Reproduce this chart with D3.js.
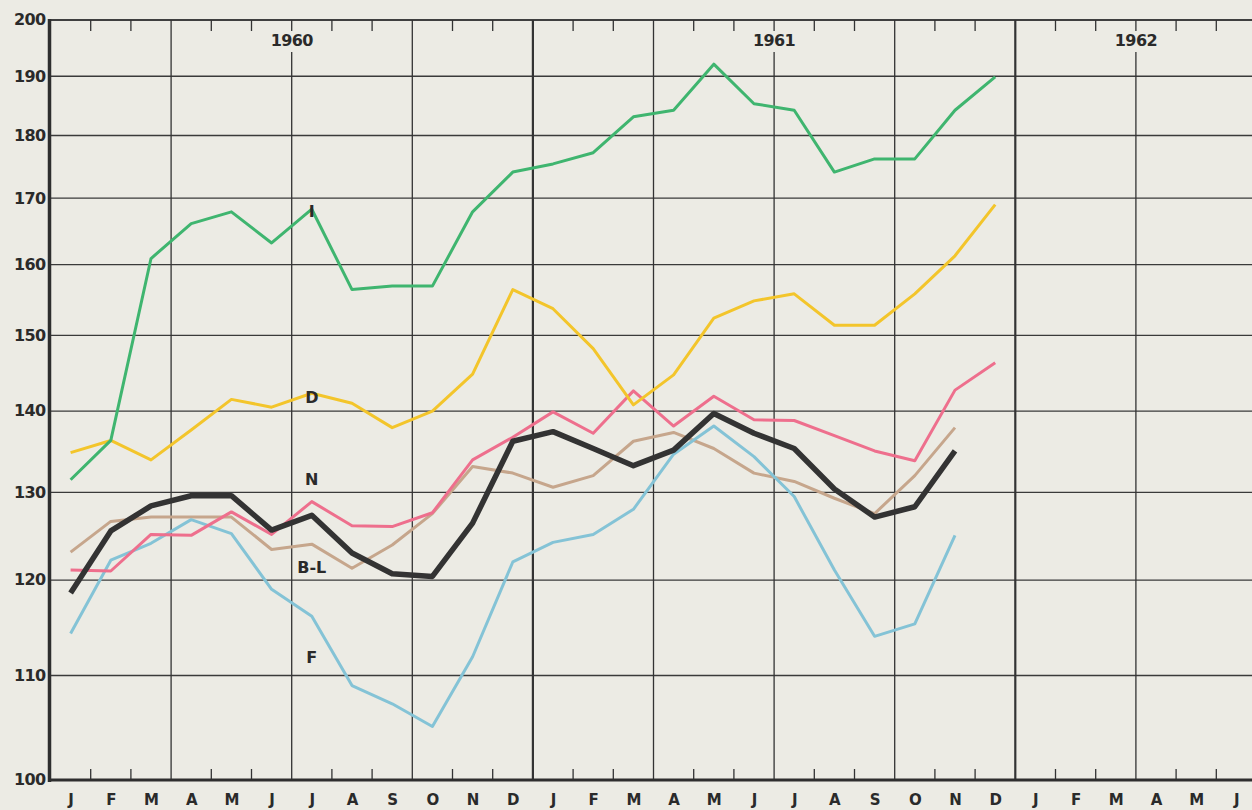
<!DOCTYPE html>
<html>
<head>
<meta charset="utf-8">
<script src="https://cdn.jsdelivr.net/npm/d3@7"></script>
<style>
  html, body { margin: 0; padding: 0; background: #ecebe4; }
  svg { display: block; }
  text { font-family: "DejaVu Sans", "Lato", sans-serif; font-weight: 700; fill: #2a2a2a; }
</style>
</head>
<body>
<svg width="1252" height="810"></svg>
<script>
// month letters, Jan 1960 .. Jun 1962
var monthLabels = ['J','F','M','A','M','J','J','A','S','O','N','D',
                   'J','F','M','A','M','J','J','A','S','O','N','D',
                   'J','F','M','A','M','J'];
var years = [{label: '1960', from: 0, to: 12}, {label: '1961', from: 12, to: 24}, {label: '1962', from: 24, to: 30}];
var yTicks = [100, 110, 120, 130, 140, 150, 160, 170, 180, 190, 200];

// index values, one per month starting Jan 1960
var seriesI  = [131.5, 136.3, 160.9, 166.1, 167.9, 163.2, 168.3, 156.4, 156.9, 156.9, 167.9, 174.1,
                175.4, 177.2, 183.1, 184.2, 192.1, 185.3, 184.2, 174.1, 176.2, 176.2, 184.2, 189.9];
var seriesD  = [134.8, 136.3, 133.9, 137.6, 141.5, 140.5, 142.3, 141.0, 137.9, 140.0, 144.8, 156.4,
                153.7, 148.2, 140.8, 144.7, 152.4, 154.8, 155.8, 151.4, 151.4, 155.8, 161.3, 169.0];
var seriesN  = [121.1, 121.0, 125.1, 125.0, 127.7, 125.1, 128.9, 126.1, 126.0, 127.6, 133.9, 136.7,
                139.9, 137.2, 142.6, 138.1, 141.9, 138.9, 138.8, 136.9, 135.0, 133.8, 142.7, 146.3];
var seriesBL = [123.1, 126.6, 127.1, 127.1, 127.1, 123.4, 124.0, 121.3, 123.9, 127.5, 133.1, 132.3,
                130.6, 132.0, 136.2, 137.3, 135.3, 132.3, 131.3, 129.3, 127.5, 132.0, 137.9];
var seriesF  = [114.3, 122.2, 124.1, 126.8, 125.2, 119.0, 116.1, 109.0, 107.2, 105.0, 111.9, 122.0,
                124.2, 125.1, 128.0, 134.6, 138.1, 134.3, 129.5, 121.1, 114.0, 115.3, 125.0];
var seriesTotal = [118.6, 125.5, 128.4, 129.6, 129.6, 125.6, 127.3, 123.0, 120.7, 120.4, 126.4, 136.2,
                   137.4, 135.3, 133.2, 135.1, 139.7, 137.2, 135.3, 130.4, 127.1, 128.3, 135.0];

var series = [
  {name: 'B-L', values: seriesBL, color: '#c6a68c', width: 3},
  {name: 'F', values: seriesF, color: '#84c3d6', width: 3},
  {name: 'N', values: seriesN, color: '#ee6f8d', width: 3},
  {name: 'D', values: seriesD, color: '#f3c52b', width: 3},
  {name: 'I', values: seriesI, color: '#3fb56f', width: 3},
  {name: '', values: seriesTotal, color: '#333333', width: 5.5}
];
var seriesLabels = [
  {text: 'I', month: 6, value: 167.9},
  {text: 'D', month: 6, value: 141.8},
  {text: 'N', month: 6, value: 131.5},
  {text: 'B-L', month: 6, value: 121.4},
  {text: 'F', month: 6, value: 111.8}
];

var svg = d3.select('svg');
var leftX = 50.5, topY = 20, bottomY = 780;
var x = d3.scaleLinear().domain([0, 30]).range([leftX, leftX + 30 * 40.2]);
var y = d3.scaleLog().domain([100, 200]).range([bottomY, topY]);
function mid(i) { return x(i + 0.5); }

var grid = svg.append('g');
// horizontal grid lines
grid.selectAll('line.h').data(yTicks.slice(1)).enter().append('line')
  .attr('x1', leftX).attr('x2', 1252)
  .attr('y1', function(d){ return y(d); }).attr('y2', function(d){ return y(d); })
  .attr('stroke', '#3a3a3a').attr('stroke-width', 1.3);

// vertical grid lines every quarter
var quarters = d3.range(3, 30, 3);
var labelled = {6: true, 18: true, 27: true};
grid.selectAll('line.v').data(quarters).enter().append('line')
  .attr('x1', function(d){ return x(d); }).attr('x2', function(d){ return x(d); })
  .attr('y1', function(d){ return labelled[d] ? 52 : topY; }).attr('y2', bottomY)
  .attr('stroke', '#333')
  .attr('stroke-width', function(d){ return d % 12 === 0 ? 2.2 : 1.3; });
// short tick above each year label
grid.selectAll('line.yt').data([6, 18, 27]).enter().append('line')
  .attr('x1', function(d){ return x(d); }).attr('x2', function(d){ return x(d); })
  .attr('y1', topY).attr('y2', topY + 11)
  .attr('stroke', '#333').attr('stroke-width', 1.3);

// month ticks top and bottom
var bounds = d3.range(1, 30).filter(function(k){ return k % 3 !== 0; });
grid.selectAll('line.tt').data(bounds).enter().append('line')
  .attr('x1', function(d){ return x(d); }).attr('x2', function(d){ return x(d); })
  .attr('y1', topY).attr('y2', topY + 11)
  .attr('stroke', '#333').attr('stroke-width', 1.3);
grid.selectAll('line.tb').data(bounds).enter().append('line')
  .attr('x1', function(d){ return x(d); }).attr('x2', function(d){ return x(d); })
  .attr('y1', bottomY).attr('y2', bottomY - 11)
  .attr('stroke', '#333').attr('stroke-width', 1.3);

// year labels
svg.selectAll('text.year').data(years).enter().append('text')
  .attr('x', function(d){ return x((d.from + d.to) / 2); })
  .attr('y', 46)
  .attr('text-anchor', 'middle')
  .attr('font-size', 16)
  .style('letter-spacing', '-0.6px')
  .text(function(d){ return d.label; });

// axes
var yAxis = d3.axisLeft(y).tickValues(yTicks).tickSize(0).tickPadding(4).tickFormat(d3.format('d'));
var gy = svg.append('g').attr('transform', 'translate(' + (leftX - 1) + ',0)').call(yAxis);
gy.select('.domain').remove();
gy.selectAll('text').attr('font-size', 16).attr('font-family', 'DejaVu Sans').attr('font-weight', 700)
  .attr('fill', '#2a2a2a').attr('dy', '0.3em').style('letter-spacing', '-0.6px');

var xAxis = d3.axisBottom(x)
  .tickValues(d3.range(30).map(function(i){ return i + 0.5; }))
  .tickSize(0).tickPadding(14)
  .tickFormat(function(d){ return monthLabels[Math.floor(d)]; });
var gx = svg.append('g').attr('transform', 'translate(0,' + bottomY + ')').call(xAxis);
gx.select('.domain').remove();
gx.selectAll('text').attr('font-size', 15).attr('font-family', 'DejaVu Sans').attr('font-weight', 700)
  .attr('fill', '#2a2a2a');

// series lines
var line = d3.line()
  .x(function(d, i){ return mid(i); })
  .y(function(d){ return y(d); });
svg.selectAll('path.series').data(series).enter().append('path')
  .attr('fill', 'none')
  .attr('stroke', function(d){ return d.color; })
  .attr('stroke-width', function(d){ return d.width; })
  .attr('stroke-linejoin', 'round')
  .attr('d', function(d){ return line(d.values); });

// series labels
svg.selectAll('text.slabel').data(seriesLabels).enter().append('text')
  .attr('x', function(d){ return mid(d.month); })
  .attr('y', function(d){ return y(d.value); })
  .attr('text-anchor', 'middle')
  .attr('dy', '0.35em')
  .attr('font-size', 16)
  .text(function(d){ return d.text; });

// frame: left and bottom heavy axes, top light line
svg.append('line').attr('x1', leftX).attr('x2', 1252).attr('y1', topY).attr('y2', topY)
  .attr('stroke', '#333').attr('stroke-width', 1.5);
svg.append('line').attr('x1', leftX - 1).attr('x2', leftX - 1).attr('y1', topY - 1).attr('y2', bottomY + 2)
  .attr('stroke', '#2e2e2e').attr('stroke-width', 3.5);
svg.append('line').attr('x1', leftX - 2).attr('x2', 1252).attr('y1', bottomY).attr('y2', bottomY)
  .attr('stroke', '#2e2e2e').attr('stroke-width', 3.2);
</script>
</body>
</html>
